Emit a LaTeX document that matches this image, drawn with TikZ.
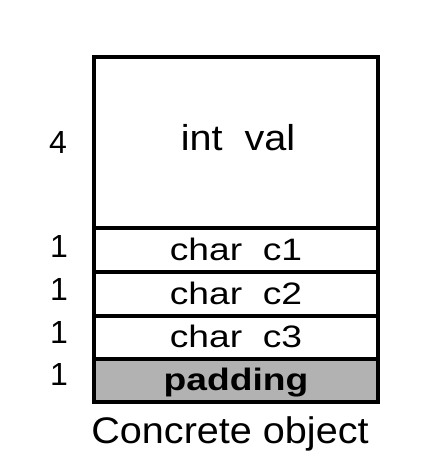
\documentclass[tikz,border=0pt]{standalone}
\usepackage{fontspec}
\setmainfont{Liberation Sans}
\tikzset{
  cell/.style={line width=3.5pt},
  field/.style={anchor=base, inner sep=0pt, font=\fontsize{31}{31}\selectfont},
  bytes/.style={anchor=base, inner sep=0pt, font=\fontsize{32}{32}\selectfont},
}
\newcommand{\widefield}[2][1.2]{\scalebox{#1}[1]{#2}}
\begin{document}
\begin{tikzpicture}[x=1pt, y=-1pt]
\useasboundingbox (0,0) rectangle (444,468);
\coordinate (A) at (94 ,57 ) ;
\coordinate (B) at (378,228) ;
\coordinate (C) at (94 ,228) ;
\coordinate (D) at (378,272) ;
\coordinate (E) at (94 ,272) ;
\coordinate (F) at (378,316) ;
\coordinate (G) at (94 ,316) ;
\coordinate (H) at (378,359) ;
\coordinate (I) at (94 ,359) ;
\coordinate (J) at (378,402) ;
\fill[black!30] (I) rectangle (J);
\draw[cell] (A) rectangle (B);
\draw[cell] (C) rectangle (D);
\draw[cell] (E) rectangle (F);
\draw[cell] (G) rectangle (H);
\draw[cell] (I) rectangle (J);
\node[field, font=\fontsize{36}{36}\selectfont] (val) at (238,150) {\widefield[1.1]{int\ \ val}};
\node[field] (c1) at (236,260) {\widefield{char\ \ c1}};
\node[field] (c2) at (236,304) {\widefield{char\ \ c2}};
\node[field] (c3) at (236,347) {\widefield{char\ \ c3}};
\node[field] (pad) at (236,390) {\widefield{\textbf{padding}}};
\node[bytes] (n0) at (58,153) {4};
\node[bytes] (n1) at (59,257) {1};
\node[bytes] (n2) at (59,300) {1};
\node[bytes] (n3) at (59,343) {1};
\node[bytes] (n4) at (59,385) {1};
\node[field, font=\fontsize{37}{37}\selectfont] (title) at (230,443) {\widefield[1.07]{Concrete object}};
\end{tikzpicture}
\end{document}
